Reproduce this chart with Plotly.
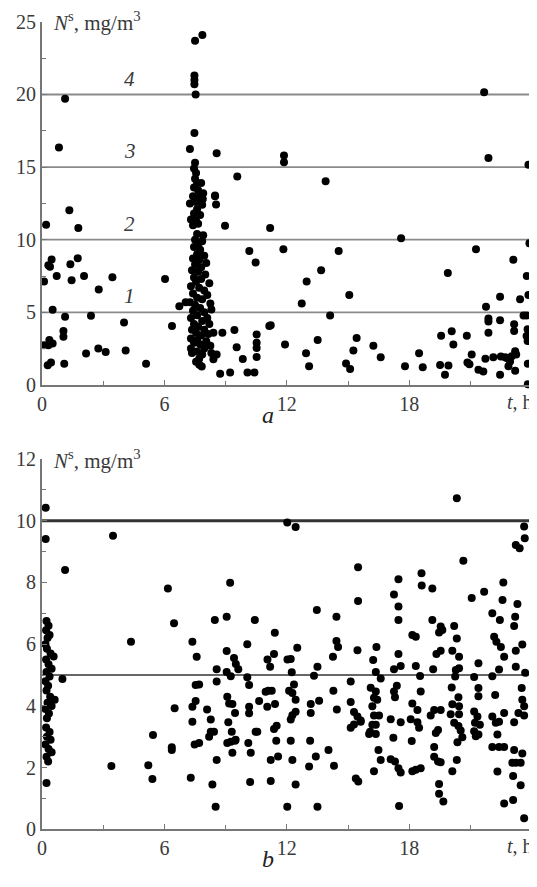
import plotly.graph_objects as go

# ---------------- data: panel a ----------------
a_t = [1.13,0.83,7.5,7.86,7.47,7.47,7.47,7.53,7.47,7.25,8.56,9.57,8.48,
       21.67,11.86,11.86,13.9,21.88,23.84,
       1.34,0.2,1.78,0.1,0.47,0.31,0.39,0.72,1.39,1.75,1.45,2.06,2.78,3.45,0.52,1.13,2.4,4.02,1.05,1.05,0.1,0.36,0.52,0.31,0.28,0.44,1.09,2.16,2.76,3.12,4.1,5.1,6.03,6.37,6.73,7.04,
       7.88,8.48,8.53,8.97,8.73,9.22,8.84,8.4,9.43,9.54,9.84,10.07,10.41,10.52,10.52,10.52,10.52,10.16,10.47,11.18,11.14,8.4,8.3,8.56,7.71,7.83,
       17.6,23.89,11.83,14.54,21.27,23.1,13.68,12.97,19.89,23.76,15.06,12.73,22.45,23.43,23.84,21.76,14.12,23.6,23.76,21.88,21.88,22.45,23.14,23.14,23.8,23.75,23.8,11.21,11.91,13.51,15.42,15.26,16.24,16.6,12.94,13.09,14.9,15.1,17.79,18.48,18.66,19.56,20.08,20.16,20.82,19.51,19.92,19.75,21.06,20.85,20.95,21.39,21.63,21.73,22.12,22.49,22.7,22.78,22.45,22.86,22.94,23.02,23.19,23.24,23.19,21.88,23.81,23.81,
       7.5,7.45,7.55,7.5,7.6,7.8,7.45,7.65,7.9,7.4,7.7,7.55,7.25,7.85,7.6,7.45,7.75,7.3,7.55,7.4,7.65,
       7.6,7.9,7.5,7.7,7.85,7.45,7.75,7.6,7.95,7.4,7.7,8.05,7.5,7.8,7.35,7.65,8.0,7.45,7.8,7.55,8.2,7.3,7.7,7.95,7.4,8.1,7.6,7.85,7.25,8.25,7.5,7.75,8.3,7.4,7.95,
       7.6,7.3,8.1,7.85,7.45,8.2,7.65,7.35,7.95,7.55,8.15,7.8,7.3,7.6,8.05,7.45,7.75,8.25,7.3,7.95,7.6,7.35,7.85,7.7,7.55]
a_n = [19.7,16.35,23.7,24.1,21.3,21.0,20.7,20.0,17.35,16.25,15.95,14.35,13.05,
       20.15,15.8,15.33,14.03,15.63,15.17,
       12.03,11.03,10.8,7.13,8.64,8.24,8.13,7.5,8.31,8.73,7.2,7.5,6.57,7.41,5.18,4.69,4.76,4.3,3.71,3.32,2.74,3.09,2.86,2.74,1.35,1.55,1.46,2.16,2.51,2.27,2.37,1.46,7.29,4.06,5.41,5.69,
       12.8,13.0,12.42,10.96,0.77,0.86,3.6,3.6,3.78,2.6,1.79,0.86,0.86,3.48,2.9,2.55,1.92,9.22,8.43,10.8,4.06,1.76,2.2,2.09,1.39,1.27,
       10.1,9.76,9.34,9.22,9.34,8.62,7.9,7.13,7.71,7.5,6.2,5.6,6.08,5.9,6.2,5.39,4.78,4.78,4.78,4.57,4.36,4.46,4.18,3.71,3.83,3.37,3.02,4.11,2.79,3.09,3.23,2.37,2.69,1.9,2.18,1.28,1.48,1.09,1.28,2.18,1.21,3.39,3.69,2.79,3.39,1.38,1.33,0.7,2.09,1.55,1.43,1.04,0.93,1.8,1.9,1.95,1.9,1.85,0.7,1.28,1.62,1.97,2.32,2.09,0.98,3.6,1.46,0.04,
       15.3,14.9,14.6,14.2,13.9,13.9,13.6,13.4,13.2,13.0,12.9,12.6,12.5,12.4,12.1,11.8,11.7,11.4,11.3,11.0,11.1,
       10.4,10.3,10.0,9.8,9.9,9.5,9.3,9.0,8.9,8.7,8.6,8.4,8.3,8.1,7.9,7.8,7.6,7.4,7.3,7.1,7.0,6.8,6.7,6.5,6.3,6.2,6.0,5.9,5.7,5.6,5.5,5.3,5.2,5.1,5.0,
       4.8,4.6,4.6,4.4,4.2,4.2,4.0,3.8,3.8,3.6,3.5,3.4,3.2,3.1,3.0,2.9,2.8,2.7,2.5,2.5,2.3,2.2,2.1,1.8,1.6]

# ---------------- data: panel b ----------------
b_t = [0.22,0.32,0.20,0.37,0.27,0.17,0.24,0.42,0.57,0.20,0.32,0.47,0.22,0.37,0.17,0.30,0.22,0.40,0.62,0.27,0.47,0.17,0.34,0.24,0.20,0.37,0.24,0.42,0.17,0.32,0.47,0.22,0.30,0.22,1.0,
       0.18,0.18,1.13,3.48,4.36,6.17,6.47,8.47,9.05,9.22,10.43,7.37,7.58,9.05,9.41,10.06,
       20.33,12.02,12.43,23.63,23.66,23.22,23.41,20.65,15.49,17.47,18.6,18.61,19.13,17.25,17.47,17.47,15.49,13.47,14.43,21.06,21.67,22.61,22.57,23.3,22.07,22.44,23.19,23.14,19.13,19.54,19.62,19.46,20.2,20.33,18.15,18.32,11.41,12.51,14.43,14.51,22.16,22.27,22.49,23.54,23.22,22.65,
       14.26,15.46,9.5,9.62,8.56,8.56,9.05,9.25,11.37,11.05,11.18,12.03,12.19,12.24,10.06,10.15,7.7,13.5,13.33,15.13,14.28,11.09,11.26,12.11,12.27,12.35,12.43,10.64,10.15,10.15,9.08,9.17,9.33,9.46,11.42,11.04,13.17,13.58,13.17,14.45,15.13,15.29,15.46,15.62,15.13,15.29,12.43,12.27,12.19,8.09,8.27,9.13,9.3,9.25,8.27,8.43,8.19,9.46,9.08,10.55,10.47,10.11,10.23,11.5,11.37,11.48,12.19,13.14,14.04,13.42,13.09,14.31,16.08,11.21,11.57,12.27,8.56,8.35,10.2,11.21,12.43,15.38,15.5,8.51,12.02,13.5,7.7,
       3.4,5.21,5.41,5.44,6.36,6.36,6.5,7.29,7.37,7.37,7.53,7.53,7.48,9.33,9.49,10.96,
       16.39,16.23,17.47,19.33,19.54,20.11,20.44,21.39,16.36,16.6,17.25,17.58,18.32,18.53,19.17,20.28,20.44,20.25,21.18,22.07,22.4,23.22,23.68,16.11,16.36,16.27,16.19,16.43,17.39,17.25,17.3,18.56,18.15,18.4,20.08,20.11,20.41,20.44,21.39,21.39,22.21,23.51,23.54,23.63,15.62,16.27,16.52,16.19,16.36,16.03,16.36,17.09,17.58,17.22,18.07,18.4,18.48,18.12,19.05,19.22,19.54,19.41,19.3,19.22,20.03,20.2,20.44,20.41,20.52,20.36,20.6,21.18,21.34,21.22,21.46,21.18,21.39,21.26,22.07,22.24,22.32,22.4,22.65,23.14,23.35,23.63,22.07,22.4,22.65,23.14,23.54,23.05,23.22,23.46,23.09,23.46,22.32,22.65,23.09,23.63,16.49,16.6,16.27,17.09,17.3,17.47,17.58,18.15,18.32,18.56,17.5,19.22,19.41,19.54,19.46,19.46,19.67,20.11,20.33]
b_n = [6.75,6.6,6.45,6.3,6.2,6.0,5.85,5.7,5.6,5.5,5.35,5.2,5.1,4.95,4.8,4.65,4.5,4.3,4.2,4.1,4.0,3.9,3.75,3.6,3.3,3.15,3.0,2.9,2.75,2.6,2.5,2.35,2.2,1.5,4.87,
       10.42,9.41,8.4,9.51,6.08,7.8,6.68,6.78,6.89,7.99,6.78,6.08,5.59,5.78,5.55,6.0,
       10.73,9.94,9.8,9.81,9.43,9.21,9.11,8.7,8.49,8.1,8.3,7.9,7.8,7.61,7.22,6.78,7.4,7.11,6.89,7.5,7.7,8.0,7.43,7.3,7.0,6.78,6.89,6.59,6.78,6.57,6.46,6.38,6.59,6.18,6.3,6.24,6.37,5.88,6.1,5.91,6.24,6.08,5.91,5.99,5.79,5.59,
       5.59,5.8,5.36,5.19,5.19,4.79,5.1,4.96,5.68,5.5,5.27,5.5,5.52,5.09,4.93,4.68,4.69,5.27,4.98,4.79,4.49,4.49,4.49,4.49,4.42,4.69,4.2,4.16,3.97,3.76,4.3,4.08,4.06,3.77,4.06,3.97,4.06,4.17,3.77,3.88,4.13,3.8,3.66,3.53,3.29,3.4,3.81,3.7,3.56,3.88,3.56,3.47,3.16,2.84,3.16,3.16,3.0,2.87,2.8,3.16,3.16,2.8,2.48,3.36,3.25,2.87,2.87,2.87,2.57,2.36,2.04,2.06,3.16,2.25,2.36,2.25,2.25,1.45,1.53,1.57,1.45,1.65,1.55,0.73,0.73,0.73,2.8,
       2.05,2.08,1.63,3.06,2.66,2.57,3.92,1.67,3.49,3.97,4.16,4.68,2.75,2.48,2.9,4.46,
       5.91,5.49,5.68,5.68,5.79,5.79,5.59,5.38,5.1,4.89,5.19,5.29,5.29,4.97,5.19,5.16,5.22,4.95,4.94,4.96,5.18,5.27,5.07,4.59,4.47,4.26,3.99,4.2,4.65,4.47,4.28,4.47,4.08,3.87,4.6,4.05,4.28,3.99,4.58,4.31,4.35,4.58,4.2,3.99,3.49,3.69,3.69,3.39,3.39,3.09,3.09,3.57,3.47,2.97,3.57,3.47,3.29,2.86,3.69,3.87,3.87,3.22,3.12,2.67,3.73,3.45,3.73,3.35,3.2,2.82,2.98,3.82,3.66,3.45,3.39,3.18,3.07,3.02,3.66,3.45,3.07,3.49,3.77,3.47,3.77,3.69,2.67,2.67,2.67,2.57,2.46,2.16,2.16,2.16,1.73,1.43,1.87,0.84,0.95,0.36,2.57,2.25,1.88,2.27,2.2,1.98,1.84,1.88,1.93,1.98,0.76,2.35,2.2,2.17,1.47,1.15,0.9,1.88,2.25]

a_levels = [5, 10, 15, 20]
a_level_labels = ["1", "2", "3", "4"]
b_levels = [5, 10]

x_ticks = [0, 6, 12, 18, 24]
x_ticktext = ["0", "6", "12", "18", " "]
x_minor = [3, 9, 15, 21]

FONT = "Liberation Serif, Times New Roman, Tinos, serif"
AX = "#777777"
TXT = "#3a3a3a"
XMAX = 24.26

# page has an 8px body margin: figure is sized to fill the remaining window
W, H = 529, 879

fig = go.Figure()
fig.add_trace(go.Scatter(x=a_t, y=a_n, mode="markers", xaxis="x", yaxis="y",
                         marker=dict(color="black", size=8), cliponaxis=False, showlegend=False))
fig.add_trace(go.Scatter(x=b_t, y=b_n, mode="markers", xaxis="x2", yaxis="y2",
                         marker=dict(color="black", size=8), cliponaxis=False, showlegend=False))

def xax(anchor):
    return dict(domain=[0.0643, 1.0], range=[0, XMAX], anchor=anchor,
                tickmode="array", tickvals=x_ticks, ticktext=x_ticktext,
                ticks="inside", ticklen=5, tickwidth=1.2, tickcolor=AX,
                minor=dict(tickmode="array", tickvals=x_minor, ticks="inside", ticklen=4, tickcolor=AX, tickwidth=1.2),
                showline=True, linecolor=AX, linewidth=1.8, showgrid=False, zeroline=False,
                tickfont=dict(family=FONT, size=20, color=TXT), automargin=False, fixedrange=True)

def yax(anchor, dom, rng, dt, mdt):
    return dict(domain=dom, range=rng, anchor=anchor,
                tickmode="linear", tick0=0, dtick=dt,
                ticks="inside", ticklen=5, tickwidth=1.2, tickcolor=AX,
                minor=dict(dtick=mdt, ticks="inside", ticklen=4, tickcolor=AX, tickwidth=1.2),
                showline=True, linecolor=AX, linewidth=1.8, showgrid=False, zeroline=False,
                tickfont=dict(family=FONT, size=20, color=TXT), automargin=False, fixedrange=True)

fig.update_layout(
    width=W, height=H, margin=dict(l=0, r=0, t=0, b=0),
    paper_bgcolor="white", plot_bgcolor="white", showlegend=False,
    font=dict(family=FONT),
    xaxis=xax("y"),
    yaxis=yax("x", [0.5712, 0.9842], [0, 25], 5, 2.5),
    xaxis2=xax("y2"),
    yaxis2=yax("x2", [0.0656, 0.4869], [0, 12], 2, 1),
)

# reference lines, panel a
for lv, lab in zip(a_levels, a_level_labels):
    fig.add_shape(type="line", xref="x", yref="y", x0=0, x1=XMAX, y0=lv, y1=lv,
                  line=dict(color="#8a8a8a", width=1.8), layer="below")
    fig.add_annotation(xref="x", yref="y", x=4.3, y=lv + 1.1, text="<i>%s</i>" % lab,
                       showarrow=False, font=dict(family=FONT, size=21, color=TXT))

# reference lines, panel b
fig.add_shape(type="line", xref="x2", yref="y2", x0=0, x1=XMAX, y0=b_levels[0], y1=b_levels[0],
              line=dict(color="#666666", width=2), layer="below")
fig.add_shape(type="line", xref="x2", yref="y2", x0=0, x1=XMAX, y0=b_levels[1], y1=b_levels[1],
              line=dict(color="#333333", width=3), layer="below")

ytitle = "<i>N</i><sup>s</sup>, mg/m<sup>3</sup>"
fig.add_annotation(xref="x", yref="y", x=0.45, y=25, xanchor="left", yanchor="middle",
                   text=ytitle, showarrow=False, font=dict(family=FONT, size=21, color=TXT))
fig.add_annotation(xref="x2", yref="y2", x=0.45, y=12, xanchor="left", yanchor="middle",
                   text=ytitle, showarrow=False, font=dict(family=FONT, size=21, color=TXT))

for xr, yr in (("x", "y"), ("x2", "y2")):
    fig.add_annotation(xref=xr, yref=yr, x=XMAX, y=0, yshift=-17, xshift=-2, xanchor="right",
                       text="<i>t</i>, h", showarrow=False,
                       font=dict(family=FONT, size=20, color=TXT))

fig.add_annotation(xref="paper", yref="paper", x=260 / W, y=(H - 407) / H,
                   text="<i>a</i>", showarrow=False, font=dict(family=FONT, size=24, color="#222"))
fig.add_annotation(xref="paper", yref="paper", x=260 / W, y=(H - 866) / H,
                   text="<i>b</i>", showarrow=False, font=dict(family=FONT, size=24, color="#222"))

fig.write_html("out.html")
